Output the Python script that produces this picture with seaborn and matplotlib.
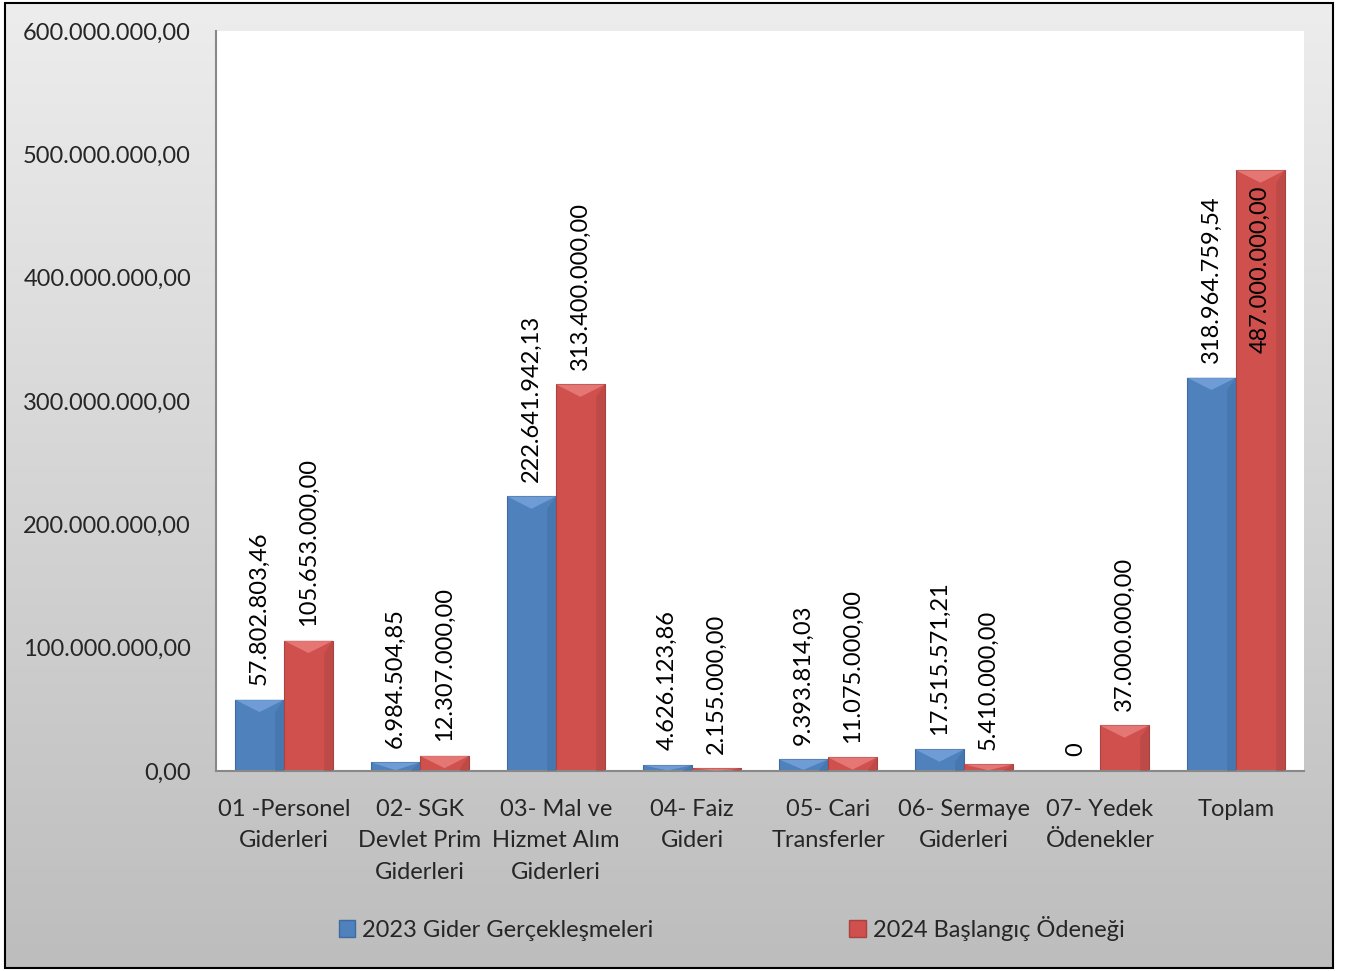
import numpy as np
import pandas as pd
import matplotlib
matplotlib.use("Agg")
import matplotlib.pyplot as plt
import seaborn as sns
from matplotlib.patches import Rectangle, Polygon

# data
categories = ["01 -Personel\nGiderleri", "02- SGK\nDevlet Prim\nGiderleri",
              "03- Mal ve\nHizmet Alım\nGiderleri", "04- Faiz\nGideri",
              "05- Cari\nTransferler", "06- Sermaye\nGiderleri",
              "07- Yedek\nÖdenekler", "Toplam"]
series = ["2023 Gider Gerçekleşmeleri", "2024 Başlangıç Ödeneği"]
values_2023 = [57802803.46, 6984504.85, 222641942.13, 4626123.86,
               9393814.03, 17515571.21, 0, 318964759.54]
values_2024 = [105653000.00, 12307000.00, 313400000.00, 2155000.00,
               11075000.00, 5410000.00, 37000000.00, 487000000.00]
yticks = [0, 100e6, 200e6, 300e6, 400e6, 500e6, 600e6]

df = pd.DataFrame({
    "Kategori": categories * 2,
    "Seri": [series[0]] * 8 + [series[1]] * 8,
    "Deger": values_2023 + values_2024,
})


def tr_fmt(v):
    s = f"{v:,.2f}"
    return s.replace(",", "X").replace(".", ",").replace("X", ".")


sns.set_theme(style="white")
plt.rcParams["font.family"] = ["Lato", "DejaVu Sans"]
FS = 17

fig = plt.figure(figsize=(13.45, 9.71), dpi=100)

# gray gradient background inside a black frame
bg = fig.add_axes([0, 0, 1, 1], zorder=-10)
grad = np.linspace(0, 1, 256).reshape(-1, 1)
cmap = matplotlib.colors.LinearSegmentedColormap.from_list("g", ["#ededed", "#bdbdbd"])
bg.imshow(grad, aspect="auto", cmap=cmap, extent=[5 / 1345, 1333 / 1345, 3 / 971, 968 / 971],
          origin="upper")
bg.add_patch(Rectangle((5 / 1345, 3 / 971), 1328 / 1345, 965 / 971, fill=False,
                       edgecolor="black", linewidth=1.5))
bg.set_xlim(0, 1)
bg.set_ylim(0, 1)
bg.axis("off")

ax = fig.add_axes([216 / 1345, 1 - 771 / 971, (1304 - 216) / 1345, (771 - 31) / 971])
colors = ["#4f81bd", "#d0504d"]
sns.barplot(data=df, x="Kategori", y="Deger", hue="Seri", palette=colors,
            width=0.72, ax=ax, saturation=1, edgecolor="none", linewidth=0)

ax.set_ylim(0, 600e6)
ax.set_yticks(yticks)
ax.set_yticklabels([tr_fmt(v) for v in yticks], fontsize=FS)
ax.tick_params(axis="x", labelsize=FS, pad=20, length=0)
ax.tick_params(axis="y", pad=18, length=0)
ax.set_xlabel("")
ax.set_ylabel("")
for side in ["top", "right"]:
    ax.spines[side].set_visible(False)
for side in ["left", "bottom"]:
    ax.spines[side].set_color("#888888")
    ax.spines[side].set_linewidth(1.5)
ax.set_facecolor("white")
for lbl in ax.get_xticklabels():
    lbl.set_linespacing(1.62)

# bevel effect + labels
light = {"#4f81bd": "#7aa6de", "#d0504d": "#ec8482"}
dark = {"#4f81bd": "#3f6b9f", "#d0504d": "#a94340"}
for container, col in zip(ax.containers, colors):
    hexcol = matplotlib.colors.to_hex(col)
    for bar, val in zip(container, container.datavalues):
        bar.set_edgecolor(dark[hexcol])
        bar.set_linewidth(0.8)
        x0 = bar.get_x()
        w = bar.get_width()
        h = bar.get_height()
        if h > 0:
            bh_data = min(w * 0.28 / 8 * 1088 / 740 * 600e6, h)
            top = h
            ax.add_patch(Polygon([(x0, top), (x0 + w, top), (x0 + w / 2, top - bh_data * 0.9)],
                                 closed=True, facecolor=light[hexcol], edgecolor="none",
                                 alpha=0.75, zorder=3))
            ax.add_patch(Polygon([(x0 + w * 0.82, 0), (x0 + w, 0), (x0 + w, top),
                                  (x0 + w * 0.82, max(top - bh_data * 0.9, 0))],
                                 closed=True, facecolor=dark[hexcol], edgecolor="none",
                                 alpha=0.45, zorder=3))
        cx = x0 + w / 2
        if val > 450e6:
            ax.text(cx, h - 12e6, tr_fmt(val), rotation=90, ha="center", va="top",
                    fontsize=FS, color="black", zorder=5)
        elif val == 0:
            ax.text(cx, h + 12e6, "0", rotation=90, ha="center", va="bottom",
                    fontsize=FS, color="black", zorder=5)
        else:
            ax.text(cx, h + 12e6, tr_fmt(val), rotation=90, ha="center", va="bottom",
                    fontsize=FS, color="black", zorder=5)

ax.legend_.remove()
handles = [Rectangle((0, 0), 1, 1, facecolor=c, edgecolor=dark[c]) for c in colors]
fig.legend(handles, series, loc="center", bbox_to_anchor=(0.544, 1 - 928 / 971), ncol=2,
           frameon=False, fontsize=FS, columnspacing=8.3, handlelength=0.7,
           handleheight=0.7, handletextpad=0.3)

fig.savefig("out.png", dpi=100)
